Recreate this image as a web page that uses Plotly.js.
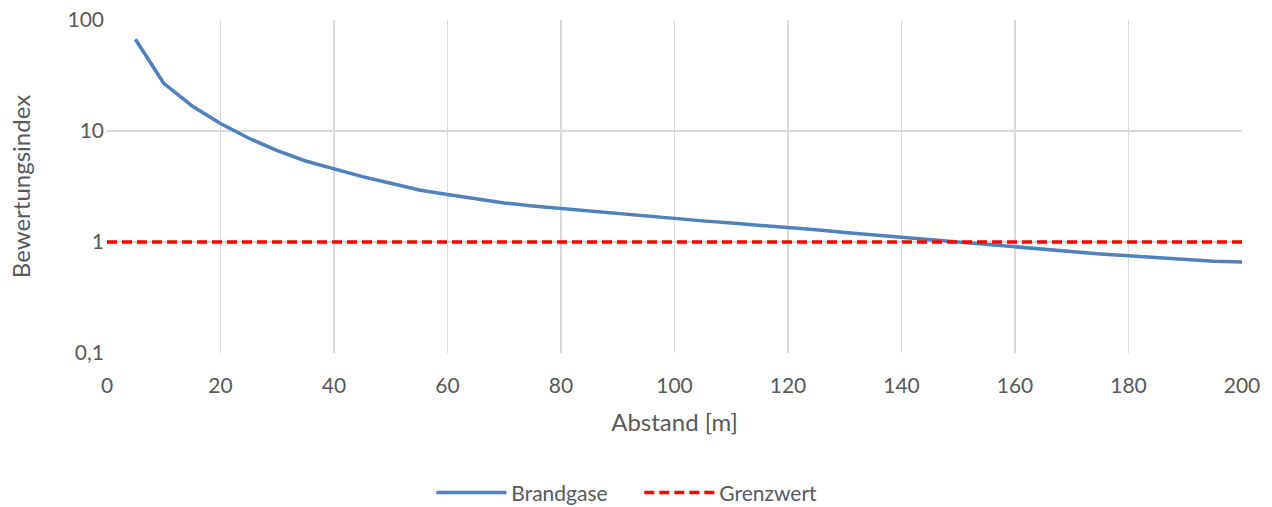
<!DOCTYPE html>
<html><head><meta charset="utf-8">
<script src="https://cdn.plot.ly/plotly-3.0.1.min.js"></script>
<style>html,body{margin:0;padding:0;background:#fff}#c{width:1272px;height:507px}</style>
</head><body><div id="c"></div>
<script>
const abstand = [5,10,15,20,25,30,35,40,45,50,55,60,65,70,75,80,85,90,95,100,105,110,115,120,125,130,135,140,145,150,155,160,165,170,175,180,185,190,195,200];
const brandgase = [67,26.9,16.8,11.7,8.6,6.65,5.37,4.58,3.88,3.38,2.94,2.68,2.44,2.25,2.11,2.0,1.89,1.79,1.70,1.62,1.55,1.48,1.42,1.36,1.29,1.22,1.16,1.11,1.05,1.0,0.95,0.90,0.86,0.82,0.78,0.75,0.72,0.69,0.67,0.66];
const grenzX = [0,200];
const grenzwert = [1,1];
const yTickVals = [0.1,1,10,100];
const yTickText = ["0,1","1","10","100"];
const xTickVals = [0,20,40,60,80,100,120,140,160,180,200];

const font = {family:"Lato, 'Open Sans', sans-serif", color:"#595959"};
const data = [
  {x:abstand, y:brandgase, type:"scatter", mode:"lines", name:"Brandgase",
   line:{color:"#4f81bd", width:3.5}},
  {x:grenzX, y:grenzwert, type:"scatter", mode:"lines", name:"Grenzwert",
   line:{color:"#ff0000", width:3.5, dash:"10px,5px"}}
];
const layout = {
  width:1272, height:507,
  margin:{l:107, r:30, t:20, b:154, autoexpand:false},
  paper_bgcolor:"#fff", plot_bgcolor:"#fff",
  font:Object.assign({size:21}, font),
  showlegend:true,
  legend:{orientation:"h", x:0.469, xanchor:"center", yref:"container", y:0.028, yanchor:"middle",
          font:Object.assign({size:21}, font), itemwidth:70, entrywidth:123, entrywidthmode:"pixels"},
  xaxis:{range:[0,200], tickvals:xTickVals, showgrid:true, gridcolor:"#d9d9d9", gridwidth:1.5,
         zeroline:false, showline:false, ticks:"", ticklabelstandoff:18, automargin:false,
         tickfont:Object.assign({size:21},font),
         title:{text:"Abstand [m]", font:Object.assign({size:24},font), standoff:18}},
  yaxis:{type:"log", range:[-1,2], tickvals:yTickVals, ticktext:yTickText, showgrid:true,
         gridcolor:"#d9d9d9", gridwidth:1.5, zeroline:false, showline:false, ticks:"",
         ticklabelstandoff:2, automargin:false, tickfont:Object.assign({size:21},font),
         title:{text:"Bewertungsindex", font:Object.assign({size:24},font), standoff:30}}
};
Plotly.newPlot("c", data, layout, {displayModeBar:false, staticPlot:true});
</script></body></html>
